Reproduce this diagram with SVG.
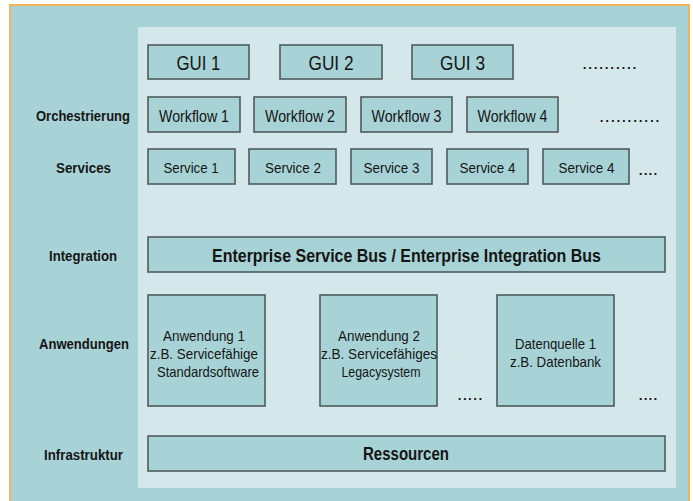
<svg xmlns="http://www.w3.org/2000/svg" width="693" height="501" viewBox="0 0 693 501">
<defs>
<style>
.bx{fill:#a8d3d6;stroke:#4f5b5d;stroke-width:1.6}
.t{font-family:"Liberation Sans",Arial,sans-serif;fill:#151515;text-anchor:middle}
.b{font-weight:bold}
.lbl{font-family:"Liberation Sans",Arial,sans-serif;fill:#151515;text-anchor:middle;font-weight:bold;font-size:14.5px}
.dots{font-family:"Liberation Sans",Arial,sans-serif;fill:#151515}
</style>
</defs>
<rect x="0" y="0" width="693" height="501" fill="#ffffff"/>
<rect x="10" y="5" width="679" height="510" fill="#a8d3d6" stroke="#f2b35a" stroke-width="2"/>
<rect x="138" y="27" width="538" height="461" fill="#d4e8eb"/>

<g id="labels">
<text class="lbl" x="83" y="121" textLength="94" lengthAdjust="spacingAndGlyphs">Orchestrierung</text>
<text class="lbl" x="83.5" y="173" textLength="55" lengthAdjust="spacingAndGlyphs">Services</text>
<text class="lbl" x="83" y="261" textLength="68" lengthAdjust="spacingAndGlyphs">Integration</text>
<text class="lbl" x="84" y="349" textLength="90" lengthAdjust="spacingAndGlyphs">Anwendungen</text>
<text class="lbl" x="83.5" y="460" textLength="79" lengthAdjust="spacingAndGlyphs">Infrastruktur</text>
</g>

<g id="gui1"><rect class="bx" x="148" y="45" width="101" height="34"/><text class="t" x="198.5" y="70" font-size="20" textLength="44" lengthAdjust="spacingAndGlyphs">GUI 1</text></g>
<g id="gui2"><rect class="bx" x="280" y="45" width="102" height="34"/><text class="t" x="331" y="70" font-size="20" textLength="45" lengthAdjust="spacingAndGlyphs">GUI 2</text></g>
<g id="gui3"><rect class="bx" x="412" y="45" width="101" height="34"/><text class="t" x="462.5" y="70" font-size="20" textLength="45" lengthAdjust="spacingAndGlyphs">GUI 3</text></g>
<text class="dots" x="582" y="69" font-size="19" textLength="55" lengthAdjust="spacing">..........</text>

<g id="workflow1"><rect class="bx" x="148" y="97" width="92" height="35"/><text class="t" x="194" y="122" font-size="17" textLength="70" lengthAdjust="spacingAndGlyphs">Workflow 1</text></g>
<g id="workflow2"><rect class="bx" x="254" y="97" width="92" height="35"/><text class="t" x="300" y="122" font-size="17" textLength="70" lengthAdjust="spacingAndGlyphs">Workflow 2</text></g>
<g id="workflow3"><rect class="bx" x="361" y="97" width="91" height="35"/><text class="t" x="406.5" y="122" font-size="17" textLength="70" lengthAdjust="spacingAndGlyphs">Workflow 3</text></g>
<g id="workflow4"><rect class="bx" x="467" y="97" width="91" height="35"/><text class="t" x="512.5" y="122" font-size="17" textLength="70" lengthAdjust="spacingAndGlyphs">Workflow 4</text></g>
<text class="dots" x="599" y="122" font-size="19" textLength="61" lengthAdjust="spacing">...........</text>

<g id="service1"><rect class="bx" x="148" y="149" width="87" height="35"/><text class="t" x="191" y="173" font-size="15" textLength="55" lengthAdjust="spacingAndGlyphs">Service 1</text></g>
<g id="service2"><rect class="bx" x="249" y="149" width="87" height="35"/><text class="t" x="293" y="173" font-size="15" textLength="56" lengthAdjust="spacingAndGlyphs">Service 2</text></g>
<g id="service3"><rect class="bx" x="351" y="149" width="81" height="35"/><text class="t" x="391.5" y="173" font-size="15" textLength="56" lengthAdjust="spacingAndGlyphs">Service 3</text></g>
<g id="service4a"><rect class="bx" x="447" y="149" width="81" height="35"/><text class="t" x="487.5" y="173" font-size="15" textLength="56" lengthAdjust="spacingAndGlyphs">Service 4</text></g>
<g id="service4b"><rect class="bx" x="543" y="149" width="86" height="35"/><text class="t" x="586.5" y="173" font-size="15" textLength="56" lengthAdjust="spacingAndGlyphs">Service 4</text></g>
<text class="dots" x="638" y="175" font-size="19" textLength="20" lengthAdjust="spacing">....</text>

<g id="esb"><rect class="bx" x="148" y="237" width="517" height="35"/><text class="t b" x="406.5" y="262" font-size="18" textLength="389" lengthAdjust="spacingAndGlyphs">Enterprise Service Bus / Enterprise Integration Bus</text></g>

<g id="anwendung1"><rect class="bx" x="148" y="295" width="117" height="111"/>
<text class="t" x="204" y="341" font-size="15" textLength="82" lengthAdjust="spacingAndGlyphs">Anwendung 1</text>
<text class="t" x="204" y="359" font-size="15" textLength="108" lengthAdjust="spacingAndGlyphs">z.B. Servicefähige</text>
<text class="t" x="208" y="377" font-size="15" textLength="102" lengthAdjust="spacingAndGlyphs">Standardsoftware</text></g>
<g id="anwendung2"><rect class="bx" x="320" y="295" width="117" height="111"/>
<text class="t" x="379" y="341" font-size="15" textLength="82" lengthAdjust="spacingAndGlyphs">Anwendung 2</text>
<text class="t" x="379" y="359" font-size="15" textLength="116" lengthAdjust="spacingAndGlyphs">z.B. Servicefähiges</text>
<text class="t" x="381" y="377" font-size="15" textLength="79" lengthAdjust="spacingAndGlyphs">Legacysystem</text></g>
<text class="dots" x="457" y="400" font-size="19" textLength="26" lengthAdjust="spacing">.....</text>
<g id="datenquelle1"><rect class="bx" x="497" y="295" width="117" height="111"/>
<text class="t" x="555.5" y="349" font-size="15" textLength="81" lengthAdjust="spacingAndGlyphs">Datenquelle 1</text>
<text class="t" x="555.5" y="367" font-size="15" textLength="91" lengthAdjust="spacingAndGlyphs">z.B. Datenbank</text></g>
<text class="dots" x="638" y="400" font-size="19" textLength="20" lengthAdjust="spacing">....</text>

<g id="ressourcen"><rect class="bx" x="148" y="436" width="517" height="35"/><text class="t b" x="406" y="460" font-size="18" textLength="86" lengthAdjust="spacingAndGlyphs">Ressourcen</text></g>

<g id="connectors"></g>
</svg>
